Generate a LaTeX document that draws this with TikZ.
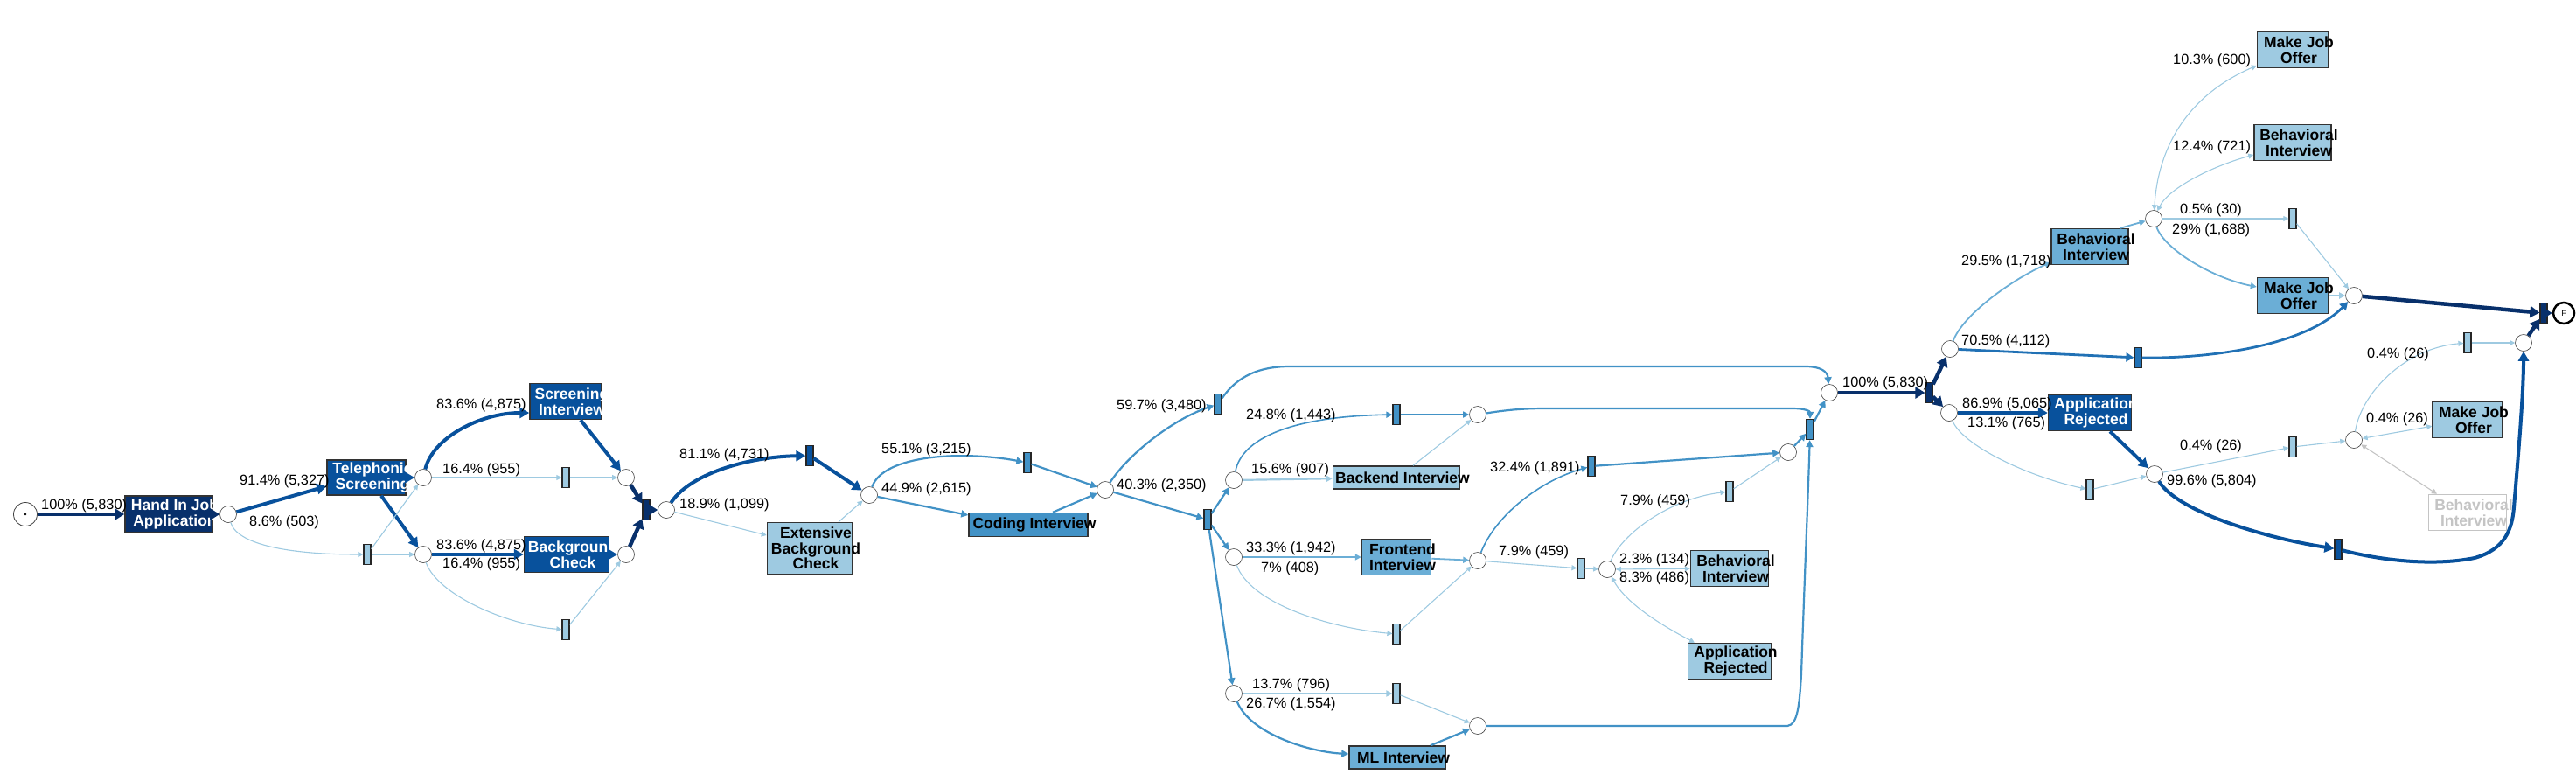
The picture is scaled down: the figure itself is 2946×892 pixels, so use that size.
\documentclass[tikz,border=0pt]{standalone}
\usepackage{fontspec}
\setmainfont{Liberation Sans}
\usetikzlibrary{arrows.meta,shapes.geometric}
\definecolor{cNavy}{HTML}{08306B}
\definecolor{cDark}{HTML}{08519C}
\definecolor{cMidD}{HTML}{2171B5}
\definecolor{cMid}{HTML}{4292C6}
\definecolor{cLMid}{HTML}{6BAED6}
\definecolor{cLight}{HTML}{9ECAE1}
\definecolor{cGrey}{HTML}{C4C4C4}
\definecolor{cBorder}{HTML}{333333}
\tikzset{
  place/.style={circle, draw=black!75, line width=0.6pt, fill=white, minimum size=19pt, inner sep=0pt},
  tau/.style={rectangle, draw=black!85, line width=1.2pt, minimum width=8pt, minimum height=23pt, inner sep=0pt},
  act/.style={rectangle, draw=cBorder, line width=1.5pt, inner sep=0pt},
  acttext/.style={font=\bfseries\fontsize{17.5}{17.5}\selectfont, align=center, inner sep=0pt, xshift=7pt},
  elab/.style={font=\fontsize{16.3}{16.3}\selectfont, inner sep=0pt, anchor=west},
  eNavy/.style={draw=cNavy, line width=4.5pt, -{Triangle[length=11pt,width=13pt]}},
  eDark/.style={draw=cDark, line width=4pt, -{Triangle[length=11pt,width=12pt]}},
  eMidD/.style={draw=cMidD, line width=2.8pt, -{Triangle[length=9pt,width=10pt]}},
  eMid/.style={draw=cMid, line width=2.2pt, -{Triangle[length=8pt,width=8pt]}},
  eMidT/.style={draw=cMid, line width=1.6pt, -{Triangle[length=7pt,width=7pt]}},
  eLMid/.style={draw=cLMid, line width=1.8pt, -{Triangle[length=7pt,width=7pt]}},
  eLight/.style={draw=cLight, line width=1.1pt, -{Triangle[length=6pt,width=6pt]}},
  eLightW/.style={draw=cLight, line width=2.2pt, -{Triangle[length=7pt,width=7pt]}},
  eLightB/.style={draw=cLight, line width=1.1pt, {Triangle[length=6pt,width=6pt]}-{Triangle[length=6pt,width=6pt]}},
  eGreyB/.style={draw=cGrey, line width=1.1pt, {Triangle[length=6pt,width=6pt]}-{Triangle[length=6pt,width=6pt]}},
}
\begin{document}
\begin{tikzpicture}[x=1pt, y=-1pt]
\useasboundingbox (0,0) rectangle (2946,892);

% ---------- places ----------
\node[place, minimum size=27pt, line width=0.8pt] (start) at (29,588) {};
\fill (start.center) circle (1.3pt);
\foreach \n/\x/\y in {p1/261/588, p2/484/546, p3/484/634, p4/716/546, p5/716/634,
  p6/762/583, p7/994/566, p8/1264/560, p9/1411/549, p10/1411/637, p11/1411/793,
  p12/1690/474, p13/1690/641, p16/1690/830, p14/1838/651, p15/2045/517,
  p17/2092/449, p18/2230/399, p19/2229/472, p20/2464/542, p21/2692/503,
  p22/2886/392, p23/2692/338, p24/2463/250}
  \node[place] (\n) at (\x,\y) {};
\node[place, minimum size=24pt, line width=2.5pt, draw=black, font=\fontsize{9}{9}\selectfont] (fin) at (2932,358) {F};

% ---------- hidden transitions ----------
\foreach \n/\x/\y/\c in {t1/420/634/cLight, t2/647/546/cLight, t3/647/720/cLight,
  t4/739/583/cNavy, t5/926/521/cDark, t6/1175/529/cMid, t7/1393/462/cMid,
  t8/1381/594/cMid, t9/1597/474/cMid, t10/1597/725/cLight, t23/1597/793/cLight,
  t11/1820/533/cMid, t12/1808/650/cLight, t13/1978/562/cLight, t14/2070/491/cMid,
  t15/2206/449/cNavy, t16/2390/560/cLight, t17/2622/511/cLight, t18/2674/628/cDark,
  t19/2822/392/cLight, t20/2909/358/cNavy, t21/2445/409/cMidD, t22/2622/250/cLight}
  \node[tau, fill=\c] (\n) at (\x,\y) {};

% ---------- activities ----------
\node[act, fill=cNavy, minimum width=100pt, minimum height=42pt,
  label={[acttext,text=white]center:Hand In Job\\Application}] (hand) at (193,588) {};
\node[act, fill=cDark, minimum width=90pt, minimum height=40pt,
  label={[acttext,text=white]center:Telephonic\\Screening}] (tel) at (419,546) {};
\node[act, fill=cDark, minimum width=82pt, minimum height=41pt,
  label={[acttext,text=white]center:Screening\\Interview}] (scr) at (647,459) {};
\node[act, fill=cDark, minimum width=97pt, minimum height=41pt,
  label={[acttext,text=white]center:Background\\Check}] (bg) at (648,634) {};
\node[act, fill=cLight, minimum width=97pt, minimum height=59pt,
  label={[acttext]center:Extensive\\Background\\Check}] (ebc) at (926,627) {};
\node[act, fill=cMid, minimum width=136pt, minimum height=27pt,
  label={[acttext]center:Coding Interview}] (cod) at (1176,600) {};
\node[act, fill=cLight, minimum width=145pt, minimum height=26pt,
  label={[acttext]center:Backend Interview}] (back) at (1597,546) {};
\node[act, fill=cLMid, minimum width=79pt, minimum height=41pt,
  label={[acttext]center:Frontend\\Interview}] (front) at (1597,637) {};
\node[act, fill=cLMid, minimum width=110pt, minimum height=26pt,
  label={[acttext]center:ML Interview}] (ml) at (1598,866) {};
\node[act, fill=cLight, minimum width=89pt, minimum height=41pt,
  label={[acttext]center:Behavioral\\Interview}] (beh1) at (1978,650) {};
\node[act, fill=cLight, minimum width=95pt, minimum height=41pt,
  label={[acttext]center:Application\\Rejected}] (rej1) at (1978,756) {};
\node[act, fill=cDark, minimum width=95pt, minimum height=41pt,
  label={[acttext,text=white]center:Application\\Rejected}] (rej2) at (2390,472) {};
\node[act, fill=cLMid, minimum width=88pt, minimum height=41pt,
  label={[acttext]center:Behavioral\\Interview}] (beh2) at (2390,282) {};
\node[act, fill=cLMid, minimum width=81pt, minimum height=41pt,
  label={[acttext]center:Make Job\\Offer}] (mjo2) at (2622,338) {};
\node[act, fill=cLight, minimum width=88pt, minimum height=41pt,
  label={[acttext]center:Behavioral\\Interview}] (beh4) at (2622,163) {};
\node[act, fill=cLight, minimum width=81pt, minimum height=41pt,
  label={[acttext]center:Make Job\\Offer}] (mjo4) at (2622,57) {};
\node[act, fill=cLight, minimum width=80pt, minimum height=41pt,
  label={[acttext]center:Make Job\\Offer}] (mjo3) at (2822,480) {};
\node[act, fill=white, draw=cGrey, minimum width=89pt, minimum height=41pt,
  label={[acttext,text=cGrey]center:Behavioral\\Interview}] (beh3) at (2822,586) {};

% ---------- edges: stage 1 ----------
\draw[eNavy] (start) -- (hand);
\draw[eNavy] (hand) -- (p1);
\draw[eDark] (p1) -- ([yshift=-10pt]tel.west);
\draw[eLight] (p1) .. controls (272,625) and (340,634) .. (t1);
\draw[eDark] (tel) -- (p2);
\draw[eDark] ([xshift=17pt]tel.south) -- (p3);
\draw[eLight] (t1) -- (p2);
\draw[eLight] (t1) -- (p3);
\draw[eDark] (p2) .. controls (495,500) and (550,472) .. ([yshift=-13pt]scr.west);
\draw[eLight] (p2) -- (t2);
\draw[eDark] (p3) -- (bg);
\draw[eLight] (p3) .. controls (500,680) and (580,715) .. (t3);
\draw[eDark] ([xshift=17pt]scr.south) -- (p4);
\draw[eLight] (t2) -- (p4);
\draw[eDark] (bg) -- (p5);
\draw[eLight] (t3) -- (p5);
\draw[eNavy] (p4) -- (t4);
\draw[eNavy] (p5) -- (t4);
\draw[eNavy] (t4) -- (p6);

% ---------- stage 2 ----------
\draw[eDark] (p6) .. controls (790,540) and (860,522) .. (t5);
\draw[eLight] (p6) -- ([yshift=15pt]ebc.west);
\draw[eDark] (t5) -- (p7);
\draw[eLight] ([xshift=33pt]ebc.north) -- (p7);
\draw[eMid] (p7) .. controls (1010,520) and (1100,515) .. (t6);
\draw[eMid] (p7) -- ([yshift=11pt]cod.west);
\draw[eMid] (t6) -- (p8);
\draw[eMid] ([xshift=28pt]cod.north) -- (p8);
\draw[eMid] (p8) .. controls (1290,520) and (1340,480) .. (t7);
\draw[eMid] (p8) -- (t8);

% ---------- stage 3 ----------
\draw[eMid] (t8) -- (p9);
\draw[eMid] (t8) -- (p10);
\draw[eMid] (t8) -- (p11);
\draw[eMidT] (p9) .. controls (1420,500) and (1480,476) .. (t9);
\draw[eLightW] (p9) -- (back);
\draw[eMidT] (t9) -- (p12);
\draw[eLight] ([xshift=19pt]back.north) -- (p12);
\draw[eLMid] (p10) -- (front);
\draw[eLight] (p10) .. controls (1430,690) and (1520,718) .. (t10);
\draw[eLMid] (front) -- (p13);
\draw[eLight] (t10) -- (p13);
\draw[eLightW] (p11) -- (t23);
\draw[eMid] (p11) .. controls (1430,840) and (1500,860) .. ([yshift=4pt]ml.west);
\draw[eLight] (t23) -- (p16);
\draw[eMid] ([xshift=38pt]ml.north) -- (p16);
\draw[eMidT] (p13) .. controls (1710,590) and (1760,550) .. (t11);
\draw[eLight] (p13) -- (t12);
\draw[eLight] (t12) -- (p14);
\draw[eLightB] (p14) -- (beh1);
\draw[eLightB] (p14) .. controls (1860,690) and (1900,715) .. ([xshift=-40pt]rej1.north);
\draw[eLight] (p14) .. controls (1855,610) and (1910,570) .. (t13);
\draw[eMid] (t11) -- (p15);
\draw[eLight] (t13) -- (p15);
\draw[eMid] (p15) -- (t14);
\draw[eMid] (p12) .. controls (1740,466) and (1760,467) .. (1800,467) -- (2050,467)
  .. controls (2064,467) and (2070,470) .. (t14);
\draw[eMid] (p16) -- (2044,830) .. controls (2056,829) and (2058,805) .. (2060,770)
  .. controls (2063,680) and (2068,560) .. (t14);
\draw[eMid] (t7) .. controls (1415,430) and (1440,419) .. (1475,419) -- (2065,419)
  .. controls (2082,419) and (2090,425) .. (p17);
\draw[eMid] (t14) -- (p17);

% ---------- stage 4 ----------
\draw[eNavy] (p17) -- (t15);
\draw[eNavy] (t15) -- (p18);
\draw[eNavy] (t15) -- (p19);
\draw[eLMid] (p18) .. controls (2245,360) and (2300,320) .. ([yshift=-18pt]beh2.west);
\draw[eMidD] (p18) -- (t21);
\draw[eLMid] ([xshift=35pt]beh2.north) -- (p24);
\draw[eLMid] (p24) .. controls (2475,285) and (2530,318) .. ([yshift=10pt]mjo2.west);
\draw[eLight] (p24) -- (t22);
\draw[eLightB] (p24) .. controls (2480,215) and (2530,190) .. ([yshift=-14pt]beh4.west);
\draw[eLightB] (p24) .. controls (2468,170) and (2500,110) .. ([yshift=-18pt]mjo4.west);
\draw[eLightW] (mjo2) -- (p23);
\draw[eLight] (t22) -- (p23);
\draw[eMidD] (t21) .. controls (2540,410) and (2640,392) .. (p23);
\draw[eNavy] (p23) -- (t20);
\draw[eDark] (p19) -- (rej2);
\draw[eLight] (p19) .. controls (2245,510) and (2320,545) .. (t16);
\draw[eDark] ([xshift=23pt]rej2.south) -- (p20);
\draw[eLight] (t16) -- (p20);
\draw[eLight] (p20) -- (t17);
\draw[eDark] (p20) .. controls (2490,585) and (2590,615) .. (t18);
\draw[eLight] (t17) -- (p21);
\draw[eLightB] (p21) -- (mjo3);
\draw[eGreyB] (p21) -- ([xshift=-35pt]beh3.north);
\draw[eLight] (p21) .. controls (2700,450) and (2750,398) .. (t19);
\draw[eLight] (t19) -- (p22);
\draw[eDark] (t18) .. controls (2720,640) and (2780,648) .. (2830,638)
  .. controls (2865,628) and (2873,605) .. (2875,580)
  .. controls (2880,520) and (2886,450) .. (p22);
\draw[eNavy] (p22) -- (t20);
\draw[eNavy] (t20) -- (fin);

% ---------- edge labels ----------
\node[elab] (l1) at (47,578) {100\% (5,830)};
\node[elab] (l2) at (274,550) {91.4\% (5,327)};
\node[elab] (l3) at (285,597) {8.6\% (503)};
\node[elab] (l4) at (499,463) {83.6\% (4,875)};
\node[elab] (l5) at (506,537) {16.4\% (955)};
\node[elab] (l6) at (499,624) {83.6\% (4,875)};
\node[elab] (l7) at (506,645) {16.4\% (955)};
\node[elab] (l8) at (777,520) {81.1\% (4,731)};
\node[elab] (l9) at (777,577) {18.9\% (1,099)};
\node[elab] (l10) at (1008,514) {55.1\% (3,215)};
\node[elab] (l11) at (1008,559) {44.9\% (2,615)};
\node[elab] (l12) at (1277,464) {59.7\% (3,480)};
\node[elab] (l13) at (1277,555) {40.3\% (2,350)};
\node[elab] (l14) at (1425,475) {24.8\% (1,443)};
\node[elab] (l15) at (1431,537) {15.6\% (907)};
\node[elab] (l16) at (1425,627) {33.3\% (1,942)};
\node[elab] (l17) at (1442,650) {7\% (408)};
\node[elab] (l18) at (1432,783) {13.7\% (796)};
\node[elab] (l19) at (1425,805) {26.7\% (1,554)};
\node[elab] (l20) at (1704,535) {32.4\% (1,891)};
\node[elab] (l21) at (1714,631) {7.9\% (459)};
\node[elab] (l22) at (1853,573) {7.9\% (459)};
\node[elab] (l23) at (1852,640) {2.3\% (134)};
\node[elab] (l24) at (1852,661) {8.3\% (486)};
\node[elab] (l25) at (2107,438) {100\% (5,830)};
\node[elab] (l26) at (2244,462) {86.9\% (5,065)};
\node[elab] (l27) at (2250,484) {13.1\% (765)};
\node[elab] (l28) at (2243,390) {70.5\% (4,112)};
\node[elab] (l29) at (2243,299) {29.5\% (1,718)};
\node[elab] (l30) at (2493,240) {0.5\% (30)};
\node[elab] (l31) at (2484,263) {29\% (1,688)};
\node[elab] (l32) at (2485,168) {12.4\% (721)};
\node[elab] (l33) at (2485,69) {10.3\% (600)};
\node[elab] (l34) at (2493,510) {0.4\% (26)};
\node[elab] (l35) at (2478,550) {99.6\% (5,804)};
\node[elab] (l36) at (2706,479) {0.4\% (26)};
\node[elab] (l37) at (2707,405) {0.4\% (26)};
\end{tikzpicture}
\end{document}
